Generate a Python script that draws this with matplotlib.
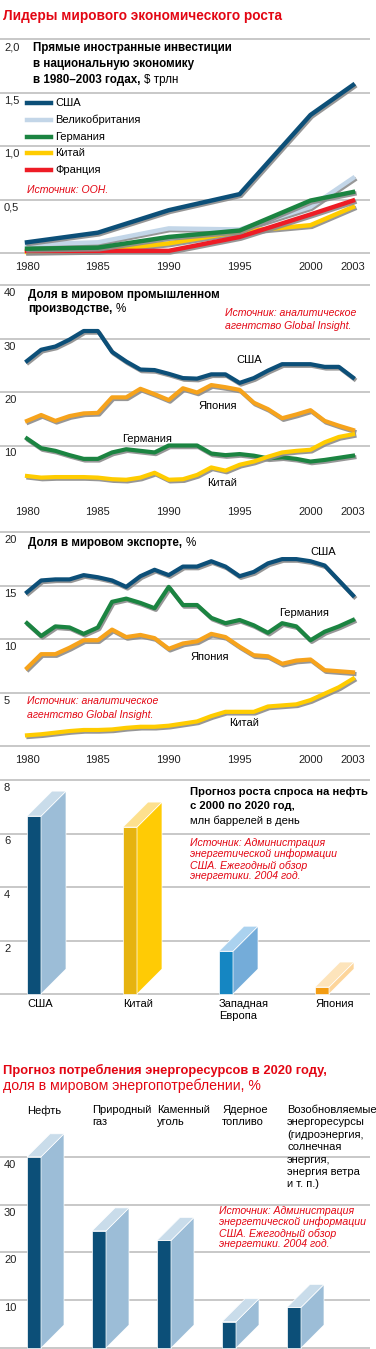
import numpy as np
import matplotlib
matplotlib.use("Agg")
import matplotlib.pyplot as plt
import matplotlib.transforms as mtransforms
import matplotlib.patheffects as pe
from matplotlib.patches import Polygon
from matplotlib.lines import Line2D
from matplotlib.text import Annotation

plt.rcParams['font.family'] = ['Liberation Sans', 'DejaVu Sans']

# ---------------- data ----------------
# 1. FDI, $ trln
fdi_years = [1980, 1985, 1990, 1995, 2000, 2003]
fdi_usa = [0.10, 0.19, 0.40, 0.55, 1.29, 1.57]
fdi_uk = [0.08, 0.10, 0.23, 0.22, 0.43, 0.70]
fdi_ger = [0.04, 0.05, 0.15, 0.21, 0.49, 0.57]
fdi_chn = [0.01, 0.02, 0.09, 0.20, 0.26, 0.43]
fdi_fra = [0.02, 0.02, 0.02, 0.15, 0.36, 0.49]
fdi_names = ["США", "Великобритания", "Германия", "Китай", "Франция"]

years = list(range(1980, 2004))
tick_years = [1980, 1985, 1990, 1995, 2000, 2003]

# 2. share of world industrial production, %
ind_usa = [25.8, 27.9, 28.5, 29.8, 31.4, 31.4, 27.5, 25.7, 24.2, 24.1, 23.4, 22.6,
           22.5, 23.3, 23.3, 21.7, 22.6, 24.0, 25.2, 25.2, 25.2, 24.7, 24.7, 22.7]
ind_jpn = [14.6, 15.7, 14.6, 15.5, 16.0, 16.1, 19.0, 19.0, 20.6, 19.6, 18.5, 20.7,
           19.9, 21.3, 20.9, 20.4, 18.0, 16.8, 15.1, 15.8, 16.6, 14.6, 13.7, 12.9]
ind_ger = [11.3, 9.5, 9.0, 8.2, 7.5, 7.5, 8.7, 9.3, 9.0, 8.7, 10.0, 10.0,
           10.0, 8.5, 8.2, 8.4, 8.1, 7.6, 7.8, 7.5, 7.0, 7.3, 7.7, 8.1]
ind_chn = [4.3, 4.0, 4.1, 4.1, 4.1, 4.0, 3.7, 3.6, 4.0, 4.9, 3.6, 3.7,
           4.5, 5.9, 5.3, 6.4, 7.0, 7.9, 8.7, 9.0, 9.2, 10.6, 11.6, 12.1]

# 3. share of world exports, %
exp_usa = [14.4, 15.5, 15.6, 15.6, 16.0, 15.8, 15.5, 14.9, 15.9, 16.5, 16.0, 16.8,
           16.8, 17.3, 16.8, 15.9, 16.3, 17.1, 17.5, 17.5, 17.3, 16.9, 15.5, 14.1]
exp_ger = [11.5, 10.3, 11.2, 11.1, 10.5, 11.1, 13.5, 13.8, 13.4, 12.9, 14.9, 13.2,
           13.2, 12.0, 11.5, 11.8, 11.3, 10.6, 11.5, 11.2, 9.9, 10.7, 11.2, 11.8]
exp_jpn = [7.3, 8.6, 8.6, 9.2, 9.9, 9.9, 10.9, 10.2, 10.4, 10.1, 9.1, 9.6,
           9.8, 10.5, 10.2, 9.3, 8.5, 8.4, 7.7, 8.0, 8.1, 7.1, 7.0, 6.9]
exp_chn = [1.0, 1.1, 1.25, 1.4, 1.5, 1.5, 1.55, 1.7, 1.8, 1.8, 1.9, 2.1,
           2.3, 2.8, 3.2, 3.2, 3.2, 3.7, 3.8, 3.9, 4.3, 4.9, 5.5, 6.3]

# 4. oil demand growth 2000-2020, mln barrels/day
oil_regions = ["США", "Китай", "Западная\nЕвропа", "Япония"]
oil_growth = [6.65, 6.24, 1.6, 0.26]

# 5. energy consumption structure 2020, %
en_sources = ["Нефть", "Природный\nгаз", "Каменный\nуголь", "Ядерное\nтопливо",
              "Возобновляемые\nэнергоресурсы\n(гидроэнергия,\nсолнечная\nэнергия,\nэнергия ветра\nи т. п.)"]
en_share = [40, 24.5, 22.5, 5.5, 8.5]

# ---------------- styles ----------------
RED = "#e30613"
GRID = "#c4c4c4"
C_USA = "#0c4f78"
C_UK = "#c3d6e8"
C_GER = "#1b8441"
C_CHN = "#ffcc00"
C_FRA = "#ee1c25"
C_JPN = "#f6a31c"
FS = 8          # ordinary labels
FB = 8.4        # bold panel titles
FSRC = 7.6      # red source notes
SRC = "Источник: Администрация\nэнергетической информации\nСША. Ежегодный обзор\nэнергетики. 2004 год."

W, H = 376, 1349
fig = plt.figure(figsize=(W / 100, H / 100), dpi=100)
fig.patch.set_facecolor("white")
pix = mtransforms.Affine2D().scale(1 / W, -1 / H).translate(0, 1) + fig.transFigure

shadow = [pe.SimpleLineShadow(offset=(1, -1.2), shadow_color="#8c8c8c", alpha=0.9), pe.Normal()]


def ftext(x, y, s, **kw):
    kw.setdefault("va", "center")
    kw.setdefault("ha", "left")
    return fig.text(x, y, s, transform=pix, **kw)


def tail(t, s, **kw):
    # regular text continuing a bold line
    a = Annotation(s, xy=(1, 0.5), xycoords=t, xytext=(3, 0), textcoords="offset pixels",
                   va="center", ha="left", **kw)
    fig.add_artist(a)


def panel(top, bottom, y0, scale, xscale, x0val):
    ax = fig.add_axes([0, 1 - bottom / H, 370 / W, (bottom - top) / H])
    ax.set_ylim((y0 - bottom) / scale, (y0 - top) / scale)
    ax.set_xlim(x0val - 27 / xscale, x0val + 343 / xscale)
    ax.axis("off")
    return ax


def grid(ax, vals, labels):
    bl = mtransforms.blended_transform_factory(ax.transAxes, ax.transData)
    for v, lab in zip(vals, labels):
        ax.axhline(v, color=GRID, lw=1.3, zorder=0)
        if lab:
            ax.annotate(lab, xy=(0, v), xycoords=bl, xytext=(4, -3), textcoords="offset pixels",
                        va="top", ha="left", fontsize=FS, color="#222222")


def xlabels(ax, ypix):
    bl = mtransforms.blended_transform_factory(ax.transData, pix)
    for yr in tick_years:
        ax.text(yr, ypix, str(yr), transform=bl, ha="center", va="center", fontsize=FS, color="#222222")


def bar3d(ax, x, h, w, dx, dy, cf, cs, ct):
    ec = dict(ec="white", lw=0.5, zorder=3)
    ax.add_patch(Polygon([(x, 0), (x + w, 0), (x + w, h), (x, h)], fc=cf, **ec))
    ax.add_patch(Polygon([(x + w, 0), (x + w + dx, dy), (x + w + dx, h + dy), (x + w, h)], fc=cs, **ec))
    ax.add_patch(Polygon([(x, h), (x + w, h), (x + w + dx, h + dy), (x + dx, h + dy)], fc=ct, **ec))


ftext(3, 16, "Лидеры мирового экономического роста", color=RED, fontsize=9.8, fontweight="bold")

# ---------- panel 1 ----------
XS = 14.174
ax1 = panel(35, 258, 253, 107, XS, 1980)
grid(ax1, [0, 0.5, 1.0, 1.5, 2.0], ["", "0,5", "1,0", "1,5", "2,0"])
xlabels(ax1, 267)
for vals, c in [(fdi_uk, C_UK), (fdi_chn, C_CHN), (fdi_fra, C_FRA), (fdi_ger, C_GER), (fdi_usa, C_USA)]:
    ax1.plot(fdi_years, vals, color=c, lw=3.2, solid_joinstyle="miter", path_effects=shadow, zorder=2)

ftext(33, 48, "Прямые иностранные инвестиции", fontsize=FB, fontweight="bold")
ftext(33, 64, "в национальную экономику", fontsize=FB, fontweight="bold")
t = ftext(33, 80, "в 1980–2003 годах,", fontsize=FB, fontweight="bold")
tail(t, "$ трлн", fontsize=FB)

for i, (name, c) in enumerate(zip(fdi_names, [C_USA, C_UK, C_GER, C_CHN, C_FRA])):
    y = 103 + i * 16.8
    fig.add_artist(Line2D([27, 51], [y, y], transform=pix, color=c, lw=3.2))
    ftext(55, y, name, fontsize=FS)
ftext(27, 190, "Источник: ООН.", color=RED, fontsize=FSRC, style="italic")

# ---------- panel 2 ----------
ax2 = panel(280, 495, 499, 5.35, XS, 1980)
grid(ax2, [10, 20, 30, 40], ["10", "20", "30", "40"])
xlabels(ax2, 512)
for vals, c in [(ind_usa, C_USA), (ind_jpn, C_JPN), (ind_ger, C_GER), (ind_chn, C_CHN)]:
    ax2.plot(years, vals, color=c, lw=3, path_effects=shadow, zorder=2)
ax2.text(1994.8, 26.0, "США", fontsize=FS, va="center")
ax2.text(1992.1, 17.4, "Япония", fontsize=FS, va="center")
ax2.text(1986.7, 11.2, "Германия", fontsize=FS, va="center")
ax2.text(1992.7, 3.0, "Китай", fontsize=FS, va="center")
ftext(28, 295, "Доля в мировом промышленном", fontsize=FB, fontweight="bold")
t = ftext(28, 309, "производстве,", fontsize=FB, fontweight="bold")
tail(t, "%", fontsize=FB)
ftext(225, 313, "Источник: аналитическое", color=RED, fontsize=FSRC, style="italic")
ftext(225, 326, "агентство Global Insight.", color=RED, fontsize=FSRC, style="italic")

# ---------- panel 3 ----------
ax3 = panel(528, 748, 746, 10.68, XS, 1980)
grid(ax3, [0, 5, 10, 15, 20], ["", "5", "10", "15", "20"])
xlabels(ax3, 760)
for vals, c in [(exp_usa, C_USA), (exp_ger, C_GER), (exp_jpn, C_JPN), (exp_chn, C_CHN)]:
    ax3.plot(years, vals, color=c, lw=3, path_effects=shadow, zorder=2)
ax3.text(2000.0, 18.2, "США", fontsize=FS, va="center")
ax3.text(1997.8, 12.45, "Германия", fontsize=FS, va="center")
ax3.text(1991.5, 8.3, "Япония", fontsize=FS, va="center")
ax3.text(1994.25, 2.15, "Китай", fontsize=FS, va="center")
t = ftext(28, 543, "Доля в мировом экспорте,", fontsize=FB, fontweight="bold")
tail(t, "%", fontsize=FB)
ftext(27, 701, "Источник: аналитическое", color=RED, fontsize=FSRC, style="italic")
ftext(27, 715, "агентство Global Insight.", color=RED, fontsize=FSRC, style="italic")

# ---------- panel 4 ----------
BS = 96.0
YS4 = 26.75
ax4 = panel(775, 998, 994, YS4, BS, 0)
grid(ax4, [0, 2, 4, 6, 8], ["", "2", "4", "6", "8"])
oil_cols = [(C_USA, "#9cbdd7", "#c9dcea"), ("#e6b30f", "#ffcb05", "#fde08e"),
            ("#1586c2", "#74acd9", "#abd2ef"), ("#f39c12", "#fdd59a", "#fde4bb")]
bl4 = mtransforms.blended_transform_factory(ax4.transData, pix)
for i, (h, lab, cc) in enumerate(zip(oil_growth, oil_regions, oil_cols)):
    bar3d(ax4, i, h, 14 / BS, 25 / BS, 25 / YS4, *cc)
    ax4.text(i, 999, lab, transform=bl4, va="top", ha="left", fontsize=FS, linespacing=1.25)
ftext(190, 792, "Прогноз роста спроса на нефть", fontsize=8.1, fontweight="bold")
ftext(190, 806, "с 2000 по 2020 год,", fontsize=8.1, fontweight="bold")
ftext(190, 821, "млн баррелей в день", fontsize=FS)
ftext(190, 838, SRC, color=RED, fontsize=FSRC, style="italic", va="top", linespacing=1.1)

# ---------- panel 5 ----------
ftext(3, 1070, "Прогноз потребления энергоресурсов в 2020 году,", color=RED, fontsize=9.3, fontweight="bold")
ftext(3, 1086, "доля в мировом энергопотреблении, %", color=RED, fontsize=10.2)
ES = 65.0
YS5 = 4.78
ax5 = panel(1100, 1349, 1348, YS5, ES, 0)
grid(ax5, [0, 10, 20, 30, 40], ["", "10", "20", "30", "40"])
bl5 = mtransforms.blended_transform_factory(ax5.transData, pix)
for i, (h, lab) in enumerate(zip(en_share, en_sources)):
    bar3d(ax5, i, h, 14 / ES, 23 / ES, 23 / YS5, C_USA, "#9cbdd7", "#c9dcea")
    ax5.text(i, 1105, lab, transform=bl5, va="top", ha="left", fontsize=FS, linespacing=1.3)
ftext(219, 1206, SRC, color=RED, fontsize=FSRC, style="italic", va="top", linespacing=1.1)

fig.savefig("out.png", dpi=100, facecolor="white")
